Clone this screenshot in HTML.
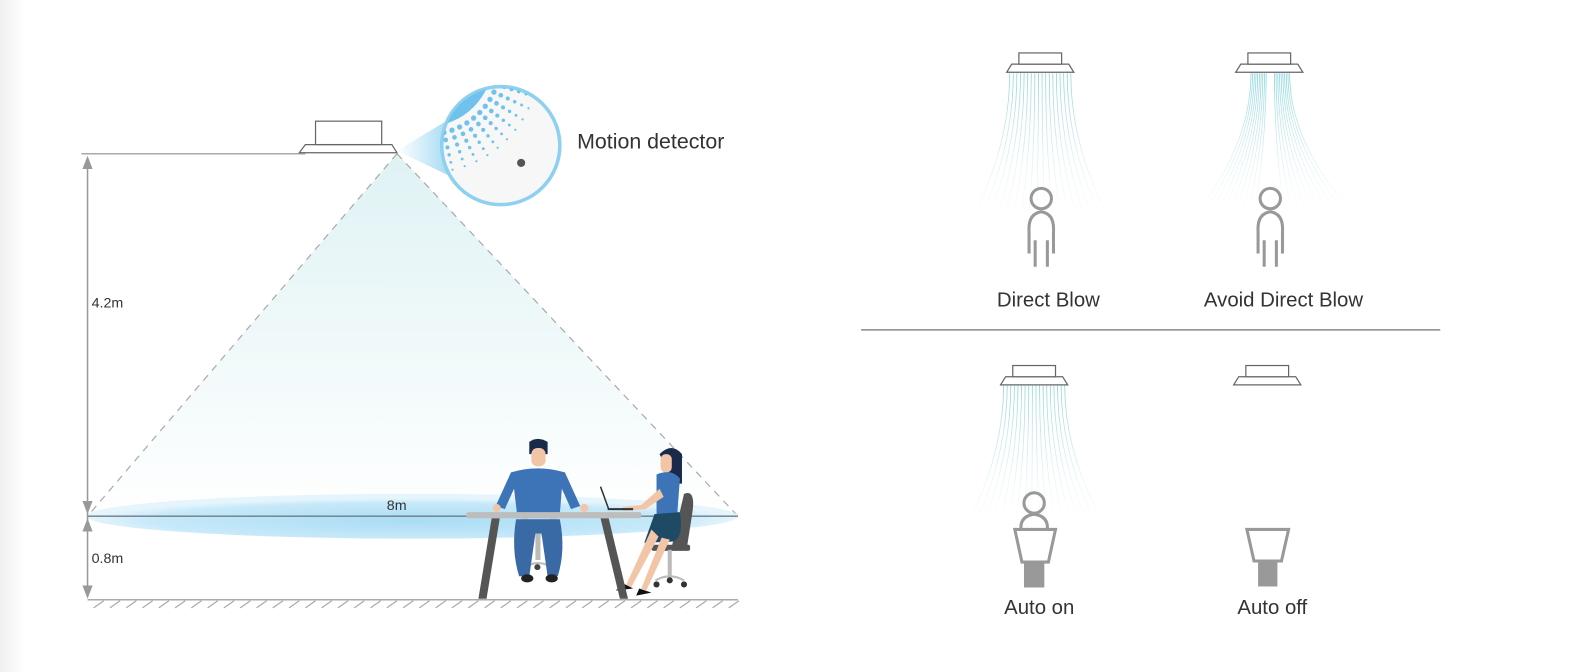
<!DOCTYPE html>
<html><head><meta charset="utf-8"><style>
html,body{margin:0;padding:0;background:#fff;}
svg{display:block;}
text{font-family:"Liberation Sans",sans-serif;fill:#333;}
</style></head><body>
<svg id="s" width="1596" height="672" viewBox="0 0 1568 660" preserveAspectRatio="none" xmlns="http://www.w3.org/2000/svg">
<defs>
<linearGradient id="strip" x1="0" x2="1"><stop offset="0" stop-color="#efefef"/><stop offset="1" stop-color="#fff"/></linearGradient>
<linearGradient id="cone" x1="0" y1="0" x2="0" y2="1"><stop offset="0" stop-color="#dff2f4"/><stop offset="1" stop-color="#ffffff"/></linearGradient>
<radialGradient id="ell" cx="0.5" cy="0.6" r="0.5"><stop offset="0" stop-color="#a9dcf5"/><stop offset="0.8" stop-color="#c7e9f9"/><stop offset="1" stop-color="#e6f5fc"/></radialGradient>
<linearGradient id="beam" x1="0" x2="1"><stop offset="0" stop-color="#ffffff"/><stop offset="1" stop-color="#a8dcf3"/></linearGradient>
<clipPath id="cc"><circle cx="492" cy="143" r="57"/></clipPath>
</defs>
<rect x="0" y="0" width="24" height="660" fill="url(#strip)"/>
<polygon points="390,151 86,507 725,507" fill="url(#cone)"/>
<line x1="390" y1="151" x2="86" y2="507" stroke="#aaa" stroke-width="1.2" stroke-dasharray="7,6"/>
<line x1="390" y1="151" x2="725" y2="507" stroke="#aaa" stroke-width="1.2" stroke-dasharray="7,6"/>
<ellipse cx="405" cy="507" rx="320" ry="22" fill="url(#ell)"/>
<line x1="86" y1="507" x2="725" y2="507" stroke="#6b7c88" stroke-width="1.3"/>
<text x="380" y="501" font-size="14">8m</text>
<line x1="80" y1="151" x2="300" y2="151" stroke="#aaa" stroke-width="1.5"/>
<line x1="86" y1="155" x2="86" y2="585" stroke="#999" stroke-width="1.5"/>
<polygon points="86,153 81,166 91,166" fill="#999"/>
<polygon points="86,505 81,492 91,492" fill="#999"/>
<polygon points="86,509 81,522 91,522" fill="#999"/>
<polygon points="86,588 81,575 91,575" fill="#999"/>
<text x="90" y="302" font-size="14">4.2m</text>
<text x="90" y="553" font-size="14">0.8m</text>
<line x1="86" y1="589" x2="725" y2="589" stroke="#aaa" stroke-width="1.5"/>
<g id="hatch" stroke="#aaa" stroke-width="1.2"></g>
<polygon points="300,142 385,142 390,150 294,150" fill="#fff" stroke="#666" stroke-width="1.2"/>
<rect x="310" y="119" width="65" height="23" fill="#fff" stroke="#666" stroke-width="1.2"/>
<polygon points="390,148 440,118 440,172" fill="url(#beam)"/>
<circle cx="492" cy="143" r="58" fill="#f7f7f7" stroke="#8ed0ef" stroke-width="3.5"/>
<g clip-path="url(#cc)">
<circle cx="420" cy="60" r="64" fill="#6ec2ec"/>
<g id="dots" fill="#6ec2ec"></g>
</g>
<circle cx="512" cy="160" r="4" fill="#555"/>
<text x="567" y="146" font-size="21">Motion detector</text>
<rect x="512" y="470" width="7" height="40" fill="#c6c6c6"/><rect x="540" y="470" width="7" height="40" fill="#c6c6c6"/>
<rect x="526" y="520" width="5" height="30" fill="#bbb"/>
<path d="M518,556 Q528,550 540,556" stroke="#bbb" fill="none" stroke-width="2"/>
<circle cx="528" cy="557" r="3" fill="#444"/>
<path d="M520,434 Q528,428 538,434 L538,446 L520,446 Z" fill="#1a2a4a"/>
<rect x="522" y="440" width="14" height="18" rx="6" fill="#f2c5a6"/>
<path d="M502,464 Q528,456 555,464 L570,497 L561,500 L552,480 L550,505 L508,505 L505,480 L496,500 L487,497 Z" fill="#3d74b8"/>
<path d="M507,510 L550,510 Q556,540 548,566 L538,566 L532,524 L526,524 L520,566 L510,566 Q502,540 507,510 Z" fill="#3a6aa5"/>
<ellipse cx="518" cy="568" rx="6" ry="4" fill="#222"/><ellipse cx="542" cy="568" rx="6" ry="4" fill="#222"/>
<circle cx="488" cy="499" r="4" fill="#f2c5a6"/><circle cx="574" cy="499" r="4" fill="#f2c5a6"/>
<path d="M672,485 Q684,480 680,505 L675,537 L660,537 Z" fill="#555"/>
<rect x="640" y="535" width="38" height="6" rx="2" fill="#555"/>
<rect x="656" y="540" width="4" height="28" fill="#bbb"/>
<path d="M644,570 Q658,562 672,570" stroke="#bbb" fill="none" stroke-width="2"/>
<circle cx="645" cy="574" r="3" fill="#333"/><circle cx="672" cy="574" r="3" fill="#333"/><circle cx="658" cy="570" r="3" fill="#333"/>
<path d="M648,446 Q660,434 670,446 L670,475 L662,475 Z" fill="#1a2a4a"/>
<rect x="649" y="446" width="11" height="18" rx="5" fill="#f2c5a6"/>
<path d="M645,466 Q660,460 668,470 L665,510 L645,510 Z" fill="#3d74b8"/>
<path d="M643,505 L668,503 Q672,530 660,532 L633,533 Z" fill="#1f4a66"/>
<path d="M640,520 L615,575 L620,577 L647,527 Z" fill="#f2c5a6"/>
<path d="M650,528 L630,578 L635,580 L658,530 Z" fill="#f2c5a6"/>
<path d="M612,573 L622,578 L605,580 Z" fill="#111"/><path d="M628,578 L640,582 L625,585 Z" fill="#111"/>
<path d="M648,480 L630,496 L612,498 L612,502 L634,500 L652,488 Z" fill="#f2c5a6"/>
<line x1="590" y1="478" x2="598" y2="500" stroke="#333" stroke-width="1.5"/>
<line x1="597" y1="500" x2="622" y2="500" stroke="#333" stroke-width="2"/>
<path d="M491,509 L483,509 L470,588 L478,588 Z" fill="#555"/>
<path d="M590,509 L598,509 L617,588 L609,588 Z" fill="#555"/>
<rect x="458" y="503" width="172" height="6" rx="2" fill="#bdbdbd"/>

<g id="fans" fill="none"></g>
<line x1="846" y1="324" x2="1415" y2="324" stroke="#888" stroke-width="1.5"/>
<g id="units"></g>
<g fill="none" stroke="#999" stroke-width="3">
<circle cx="1023" cy="195" r="10"/>
<path d="M1017,262 V236 M1029,262 V236 M1011,249 V227 M1035,249 V227 M1011,227 Q1010,210 1023,208 Q1036,210 1035,227"/>
<circle cx="1248" cy="195" r="10"/>
<path d="M1242,262 V236 M1254,262 V236 M1236,249 V227 M1260,249 V227 M1236,227 Q1235,210 1248,208 Q1261,210 1260,227"/>
<circle cx="1016" cy="494" r="10"/>
<path d="M1003,520 Q1002,507 1016,505 Q1030,507 1029,520"/>
<path d="M997,520 L1037,520 L1030,552 L1004,552 Z"/>
<path d="M1225,520 L1266,520 L1259,551 L1232,551 Z"/>
</g>
<rect x="1006" y="553" width="20" height="24" fill="#999"/>
<rect x="1236" y="552" width="19" height="24" fill="#999"/>
<text x="1030" y="301" font-size="20" text-anchor="middle">Direct Blow</text>
<text x="1261" y="301" font-size="20" text-anchor="middle">Avoid Direct Blow</text>
<text x="1021" y="603" font-size="20" text-anchor="middle">Auto on</text>
<text x="1250" y="603" font-size="20" text-anchor="middle">Auto off</text>
</svg>
<script>
var NS="http://www.w3.org/2000/svg";
function el(p,t,a){var e=document.createElementNS(NS,t);for(var k in a)e.setAttribute(k,a[k]);p.appendChild(e);return e;}
var h=document.getElementById('hatch');
for(var x=92;x<725;x+=16)el(h,'line',{x1:x,y1:597,x2:x+10,y2:590});
var d=document.getElementById('dots');
for(var r=0;r<6;r++){var R=72+r*7.5;for(var i=0;i<12;i++){var a=(12+i*6.5)*Math.PI/180;
el(d,'circle',{cx:420+R*Math.cos(a),cy:60+R*Math.sin(a),r:2.6-r*0.3});}}
var units=document.getElementById('units');
function unit(cx,y){el(units,'polygon',{points:(cx-28)+','+(y+11)+' '+(cx+28)+','+(y+11)+' '+(cx+33)+','+(y+19)+' '+(cx-33)+','+(y+19),fill:'#fff',stroke:'#666','stroke-width':1.2});
el(units,'rect',{x:cx-21,y:y,width:42,height:11,fill:'#fff',stroke:'#666','stroke-width':1.2});}
var fans=document.getElementById('fans');
var gid=0;
function fan(x0a,x0b,x1a,x1b,y0,y1,n){gid++;var defs=document.querySelector('defs');
var g=el(defs,'linearGradient',{id:'f'+gid,x1:0,y1:y0,x2:0,y2:y1,gradientUnits:'userSpaceOnUse'});
el(g,'stop',{offset:0,'stop-color':'#7fcfd6','stop-opacity':0.9});el(g,'stop',{offset:1,'stop-color':'#bfe7ea','stop-opacity':0});
for(var i=0;i<n;i++){var t=i/(n-1);var xa=x0a+(x0b-x0a)*t, xb=x1a+(x1b-x1a)*t;
el(fans,'path',{d:'M'+xa+','+y0+' Q'+xa+','+((y0+y1)/2)+' '+xb+','+y1,stroke:'url(#f'+gid+')','stroke-width':0.8});}}
fan(992,1052,955,1090,72,215,18);
fan(1229,1244,1175,1232,72,210,10);
fan(1252,1267,1262,1330,72,210,10);
fan(986,1046,950,1085,378,515,18);
unit(1022,52);unit(1247,52);unit(1016,359);unit(1245,359);
</script>
</body></html>
